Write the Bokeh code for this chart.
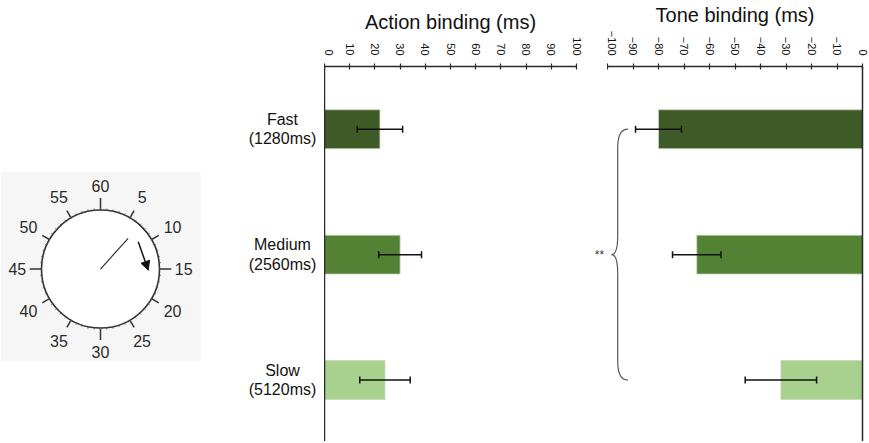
import math
from bokeh.plotting import figure
from bokeh.models import (Range1d, FixedTicker, Whisker, ColumnDataSource,
                          Arrow, NormalHead, TeeHead)
from bokeh.layouts import row
from bokeh.core.properties import value
from bokeh.embed import file_html
from bokeh.resources import INLINE

# ---------------- data ----------------
categories = ["Fast\n(1280ms)", "Medium\n(2560ms)", "Slow\n(5120ms)"]
bar_colors = ["#3d5a27", "#548235", "#a9d18e"]
action_mean = [22, 30, 24]
action_err = [9, 8.5, 10]
tone_mean = [-80, -65, -32]
tone_err = [9, 9.5, 14]
action_ticks = list(range(0, 101, 10))
tone_ticks = list(range(-100, 1, 10))
dial_labels = ["60", "5", "10", "15", "20", "25", "30", "35", "40", "45", "50", "55"]
hand_minute = 7
signif = "**"

FONT = "Liberation Sans"
AX = "#2a2a2a"
H = 441
TOP = 65
ypos = list(range(1, len(categories) + 1))
YR = (3.49, 0.5)


def bare(p):
    p.axis.visible = False
    p.grid.visible = False
    p.outline_line_color = None


def style_bar_fig(p, ticks):
    p.xgrid.visible = False
    p.ygrid.visible = False
    p.outline_line_color = None
    xa = p.xaxis[0]
    xa.ticker = FixedTicker(ticks=ticks)
    xa.major_label_orientation = -math.pi / 2
    xa.major_label_text_font = FONT
    xa.major_label_text_font_size = "11px"
    xa.major_label_text_color = "#111"
    xa.major_tick_in = 3
    xa.major_tick_out = 3
    xa.minor_tick_in = 0
    xa.minor_tick_out = 0
    xa.major_label_standoff = 8
    xa.axis_line_color = AX
    xa.axis_line_width = 1.5
    xa.major_tick_line_color = AX
    xa.major_tick_line_width = 1.2
    ya = p.yaxis[0]
    ya.ticker = FixedTicker(ticks=[])
    ya.major_tick_in = 0
    ya.major_tick_out = 0
    ya.minor_tick_in = 0
    ya.minor_tick_out = 0
    ya.major_label_standoff = 0
    ya.axis_line_color = AX
    ya.axis_line_width = 1.5
    p.title.text_font = FONT
    p.title.text_font_size = "20px"
    p.title.text_font_style = "normal"
    p.title.text_color = "#111"
    p.title.align = "center"
    p.title.standoff = 3


def add_bars(p, left, right, mean, err):
    src = ColumnDataSource(dict(y=ypos, left=left, right=right, color=bar_colors,
                                lo=[m - e for m, e in zip(mean, err)],
                                hi=[m + e for m, e in zip(mean, err)]))
    p.hbar(y="y", left="left", right="right", height=0.31, fill_color="color",
           line_color="#c8d4be", line_width=0.8, source=src)
    w = Whisker(source=src, base="y", lower="lo", upper="hi", dimension="width",
                line_color="#111", line_width=1.5, level="overlay",
                upper_head=TeeHead(size=7, line_color="#111", line_width=1.5),
                lower_head=TeeHead(size=7, line_color="#111", line_width=1.5))
    p.add_layout(w)


# ---------------- clock ----------------
pc = figure(width=240, height=H, x_range=Range1d(-1.695, 2.373), y_range=Range1d(-2.915, 3.424),
            output_backend="svg", toolbar_location=None, title=None,
            min_border_left=0, min_border_right=0, min_border_top=TOP, min_border_bottom=0)
bare(pc)
pc.quad(left=-1.695, right=1.695, top=1.644, bottom=-1.56, fill_color="#f6f6f6", line_color=None)
pc.circle(x=0, y=0, radius=1, fill_color="white", line_color="#333", line_width=1.6)

n = len(dial_labels)
ang = [math.pi / 2 - 2 * math.pi * k / n for k in range(n)]
tick_len = [0.14 if k % 3 else 0.2 for k in range(n)]
pc.segment(x0=[math.cos(a) for a in ang], y0=[math.sin(a) for a in ang],
           x1=[(1 + t) * math.cos(a) for a, t in zip(ang, tick_len)],
           y1=[(1 + t) * math.sin(a) for a, t in zip(ang, tick_len)],
           line_color="#333", line_width=1.5)
mang = [math.pi / 2 - 2 * math.pi * k / 60 for k in range(60)]
pc.segment(x0=[0.99 * math.cos(a) for a in mang], y0=[0.99 * math.sin(a) for a in mang],
           x1=[1.03 * math.cos(a) for a in mang], y1=[1.03 * math.sin(a) for a in mang],
           line_color="#555", line_width=0.8)
pc.text(x=[1.41 * math.cos(a) for a in ang], y=[1.41 * math.sin(a) for a in ang],
        text=dial_labels, text_align="center", text_baseline="middle",
        text_font=value(FONT), text_font_size="16px", text_color="#2a2a2a")
ha = math.pi / 2 - 2 * math.pi * hand_minute / 60
pc.segment(x0=[0], y0=[0], x1=[0.7 * math.cos(ha)], y1=[0.7 * math.sin(ha)],
           line_color="#333", line_width=1.2)
pc.add_layout(Arrow(x_start=0.64, y_start=0.46, x_end=0.81, y_end=-0.02,
                    line_color="#111", line_width=1.5,
                    end=NormalHead(size=9, fill_color="#111", line_color="#111")))

# ---------------- category labels ----------------
pl = figure(width=84, height=H, x_range=Range1d(0, 84), y_range=Range1d(*YR),
            output_backend="svg", toolbar_location=None, title=None,
            min_border_left=0, min_border_right=0, min_border_top=TOP, min_border_bottom=0)
bare(pl)
pl.text(x=[42] * len(categories), y=ypos, text=categories, text_align="center",
        text_baseline="middle", text_font=value(FONT), text_font_size="16px",
        text_color="#111", text_line_height=1.15)

# ---------------- action binding ----------------
pa = figure(width=266, height=H, x_range=Range1d(0, 100), y_range=Range1d(*YR),
            output_backend="svg", toolbar_location=None, x_axis_location="above",
            min_border_left=0, min_border_right=14, min_border_top=TOP, min_border_bottom=0,
            title="Action binding (ms)")
style_bar_fig(pa, action_ticks)
add_bars(pa, [0] * len(action_mean), action_mean, action_mean, action_err)

# ---------------- significance marker ----------------
ps = figure(width=17, height=H, x_range=Range1d(0, 17), y_range=Range1d(*YR),
            output_backend="svg", toolbar_location=None, title=None,
            min_border_left=0, min_border_right=0, min_border_top=TOP, min_border_bottom=0)
bare(ps)
ps.text(x=[9], y=[(ypos[0] + ypos[-1]) / 2], text=[signif], text_align="center",
        text_baseline="middle", text_font=value(FONT), text_font_size="12px", text_color="#333")

# ---------------- tone binding ----------------
pt = figure(width=261, height=H, x_range=Range1d(-100, 0), y_range=Range1d(*YR),
            output_backend="svg", toolbar_location=None, x_axis_location="above",
            y_axis_location="right",
            min_border_left=0, min_border_right=6, min_border_top=TOP, min_border_bottom=0,
            title="Tone binding (ms)")
style_bar_fig(pt, tone_ticks)
add_bars(pt, tone_mean, [0] * len(tone_mean), tone_mean, tone_err)

# significance brace spanning fast..slow
y0, y1 = ypos[0], ypos[-1]
ym = (y0 + y1) / 2
xe, xv, xm, d = -92.0, -96.0, -98.4, 0.15
pt.quadratic(x0=[xe, xv, xm, xv], y0=[y0, ym - d, ym, y1 - d],
             x1=[xv, xm, xv, xe], y1=[y0 + d, ym, ym + d, y1],
             cx=[xv, xv, xv, xv], cy=[y0, ym, ym, y1],
             line_color="#555", line_width=1.2)
pt.segment(x0=[xv, xv], y0=[y0 + d, ym + d], x1=[xv, xv], y1=[ym - d, y1 - d],
           line_color="#555", line_width=1.2)

layout = row(pc, pl, pa, ps, pt, spacing=0)
open("out.html", "w").write(file_html(layout, INLINE))
